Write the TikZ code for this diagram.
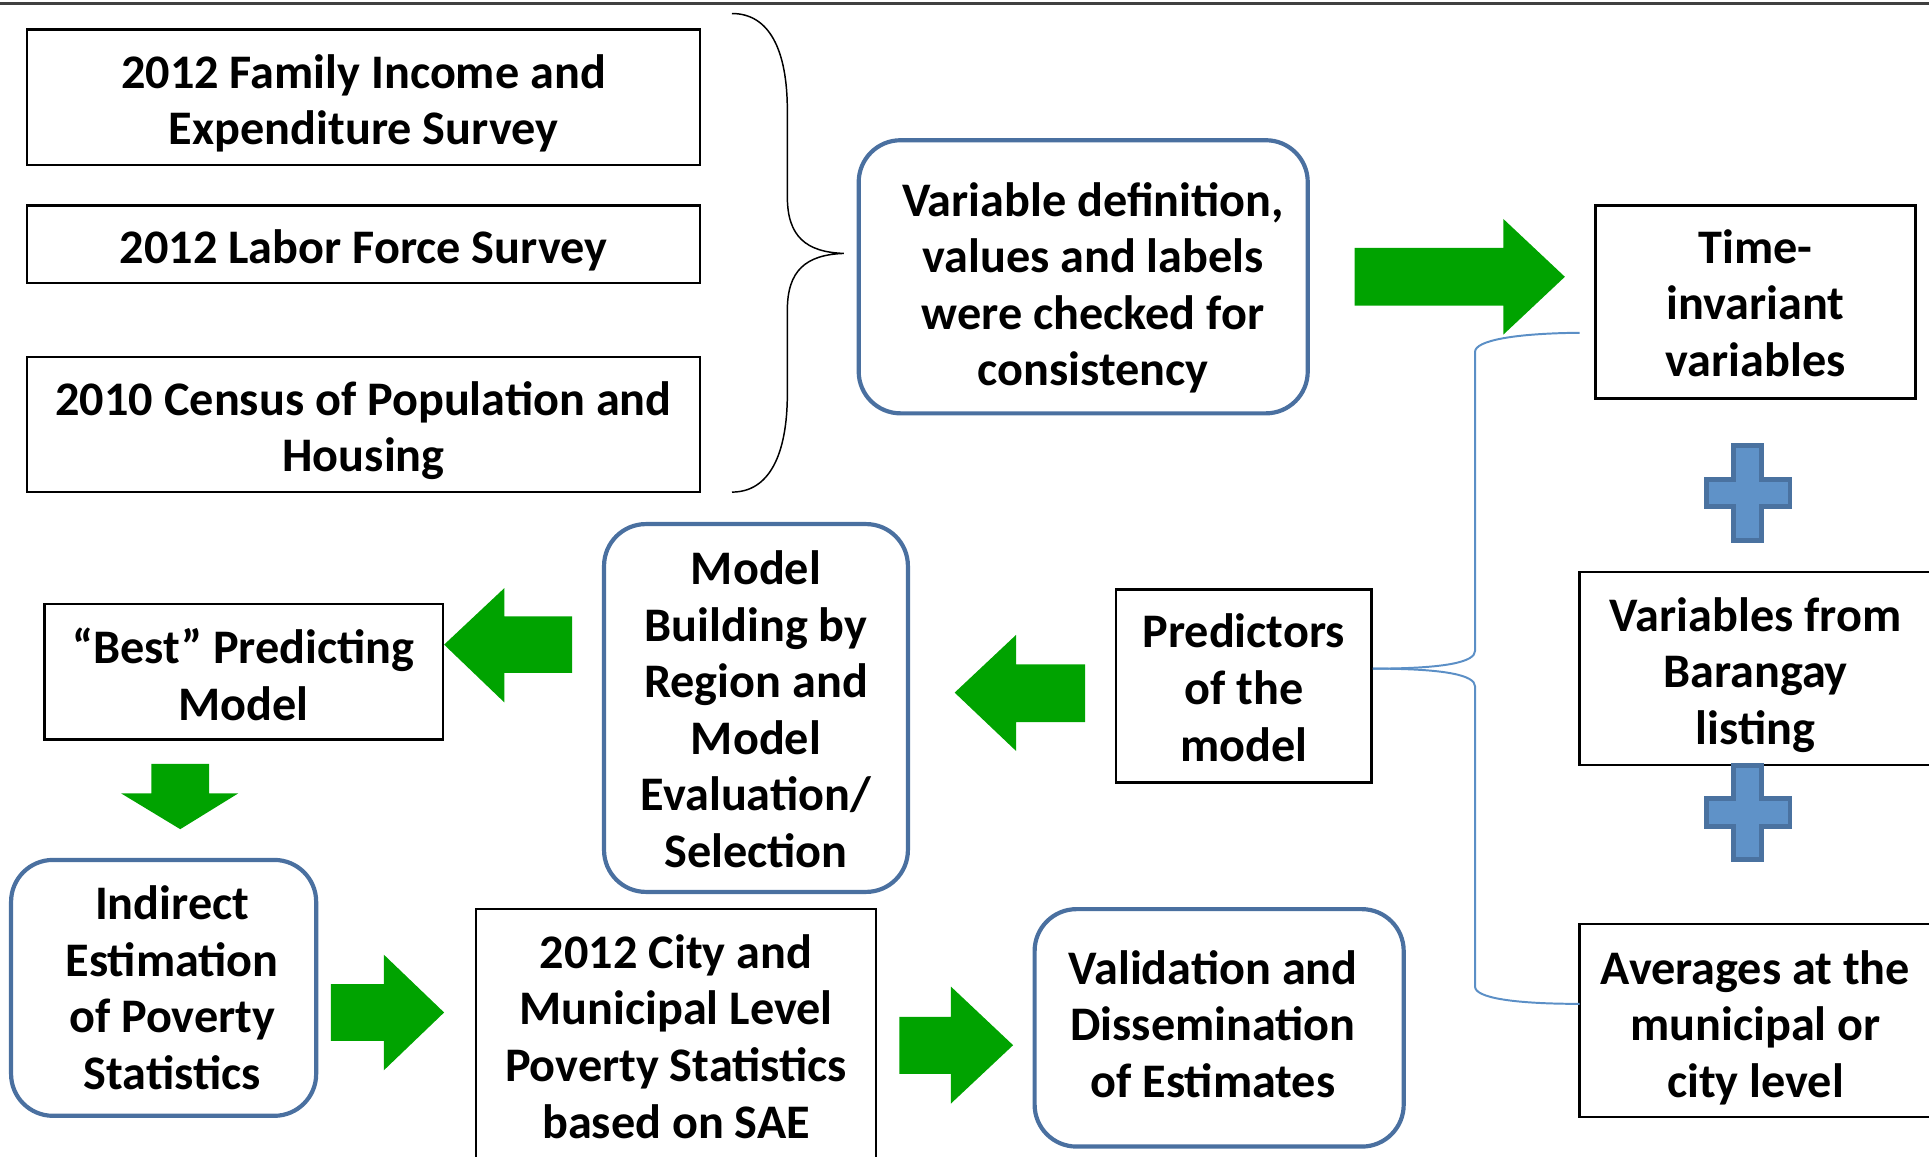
\documentclass[tikz,border=0pt]{standalone}
\usepackage{fontspec}
\setmainfont{Carlito}
\usetikzlibrary{calc}
\definecolor{agreen}{RGB}{0,163,0}
\definecolor{rblue}{RGB}{74,112,160}
\definecolor{pfill}{RGB}{95,146,200}
\definecolor{pbrd}{RGB}{74,114,160}
\definecolor{cblue}{RGB}{91,143,198}
\newcommand{\txtfont}{\fontsize{19.6pt}{23pt}\selectfont\bfseries}
\begin{document}
\begin{tikzpicture}[x=0.5pt,y=-0.5pt,
 sqbox/.style={draw=black, line width=1pt, fill=white, inner sep=0pt},
 rbox/.style={draw=rblue, line width=1.7pt, fill=white, rounded corners=17pt, inner sep=0pt},
 txt/.style={align=center, font=\txtfont, inner sep=0pt},
 garrow/.style={fill=agreen, draw=none},
 plusst/.style={fill=pfill, draw=pbrd, line width=2pt},
 conn/.style={draw=cblue, line width=0.8pt},
 bracest/.style={draw=black, line width=0.6pt}]
\useasboundingbox (0,0) rectangle (1568,940);
\draw[line width=1.1pt, black!75] (0,3) -- (1568,3);

% source boxes
\node[sqbox, minimum width=273.5pt, minimum height=55pt] (fies) at (295.5,79) {};
\node[txt] (fiesT) at ([shift={(0,5)}]fies.center) {2012 Family Income and\\Expenditure Survey};
\node[sqbox, minimum width=273.5pt, minimum height=31.5pt] (lfs) at (295.5,198.5) {};
\node[txt] (lfsT) at ([shift={(0,5)}]lfs.center) {2012 Labor Force Survey};
\node[sqbox, minimum width=273.5pt, minimum height=55pt] (census) at (295.5,345) {};
\node[txt] (censusT) at ([shift={(0,5)}]census.center) {2010 Census of Population and\\Housing};

% brace
\coordinate (bt) at (595,11);
\coordinate (bb) at (595,400);
\coordinate (btip) at (686,206);
\draw[bracest] (bt) .. controls (625,11) and (640,40) .. (640,90) -- (640,160) .. controls (640,192) and (655,205) .. (btip) .. controls (655,207) and (640,220) .. (640,252) -- (640,320) .. controls (640,370) and (625,400) .. (bb);

% main nodes
\node[rbox, minimum width=182.5pt, minimum height=111pt] (vardef) at (880.5,225) {};
\node[txt] (vardefT) at ([shift={(8,9)}]vardef.center) {Variable definition,\\values and labels\\were checked for\\consistency};
\node[sqbox, minimum width=130pt, minimum height=78.5pt] (timeinv) at (1427,245.5) {};
\node[txt] (timeinvT) at ([shift={(0,1)}]timeinv.center) {Time-\\invariant\\variables};
\node[sqbox, minimum width=143pt, minimum height=78.5pt] (barangay) at (1427,543.5) {};
\node[txt] (barangayT) at ([shift={(0,5)}]barangay.center) {Variables from\\Barangay\\listing};
\node[sqbox, minimum width=143pt, minimum height=78.5pt] (averages) at (1427,829.5) {};
\node[txt] (averagesT) at ([shift={(0,6)}]averages.center) {Averages at the\\municipal or\\city level};
\node[sqbox, minimum width=104pt, minimum height=78.5pt] (pred) at (1011,557.5) {};
\node[txt] (predT) at ([shift={(0,1.5)}]pred.center) {Predictors\\of the\\model};
\node[rbox, minimum width=123.5pt, minimum height=149.5pt] (modelb) at (614.5,575.5) {};
\node[txt] (modelbT) at ([shift={(0,1)}]modelb.center) {Model\\Building by\\Region and\\Model\\Evaluation/\\Selection};
\node[sqbox, minimum width=162pt, minimum height=55pt] (best) at (198,546) {};
\node[txt] (bestT) at ([shift={(0,2)}]best.center) {“Best” Predicting\\Model};
\node[rbox, minimum width=124pt, minimum height=104pt] (indirect) at (133,803) {};
\node[txt] (indirectT) at ([shift={(7,0)}]indirect.center) {Indirect\\Estimation\\of Poverty\\Statistics};
\node[sqbox, minimum width=162.5pt, minimum height=103.5pt] (city) at (549.5,842.5) {};
\node[txt] (cityT) at (city.center) {2012 City and\\Municipal Level\\Poverty Statistics\\based on SAE};
\node[rbox, minimum width=150pt, minimum height=96.5pt] (valid) at (991,835.5) {};
\node[txt] (validT) at ([shift={(-5,-3)}]valid.center) {Validation and\\Dissemination\\of Estimates};

% plus signs
\draw[plusst] (1409,362) -- (1432,362) -- (1432,389.5) -- (1455,389.5) -- (1455,412) -- (1432,412) -- (1432,439) -- (1409,439) -- (1409,412) -- (1387,412) -- (1387,389.5) -- (1409,389.5) -- cycle;
\draw[plusst] (1409,622) -- (1432,622) -- (1432,649) -- (1455,649) -- (1455,671.5) -- (1432,671.5) -- (1432,699) -- (1409,699) -- (1409,671.5) -- (1387,671.5) -- (1387,649) -- (1409,649) -- cycle;

% green block arrows
\fill[garrow] (1101,201.5) -- (1222,201.5) -- (1222,178) -- (1272,225) -- (1222,272) -- (1222,248.5) -- (1101,248.5) -- cycle;
\fill[garrow] (882,540) -- (826,540) -- (826,516) -- (776,563) -- (826,610.5) -- (826,587) -- (882,587) -- cycle;
\fill[garrow] (465,501) -- (410,501) -- (410,478) -- (361,524) -- (410,571) -- (410,547) -- (465,547) -- cycle;
\fill[garrow] (123,621) -- (170,621) -- (170,645) -- (193.5,645) -- (146.5,674) -- (98.6,645) -- (123,645) -- cycle;
\fill[garrow] (269,800) -- (312,800) -- (312,776) -- (361,823) -- (312,870) -- (312,846) -- (269,846) -- cycle;
\fill[garrow] (731,826.5) -- (773,826.5) -- (773,802) -- (823.5,849.6) -- (773,897) -- (773,873) -- (731,873) -- cycle;

% blue brace connector
\coordinate (tiend) at (1284,270.5);
\coordinate (avend) at (1284,816);
\coordinate (ptip) at ([yshift=7pt]pred.east);
\draw[conn] (ptip) .. controls +(30pt,0pt) and (1199,538) .. (1199,529) -- (1199,286) .. controls (1199,277) and (1230,271) .. (tiend);
\draw[conn] (ptip) .. controls +(30pt,0pt) and (1199,549) .. (1199,558) -- (1199,802) .. controls (1199,811) and (1230,816) .. (avend);
\end{tikzpicture}
\end{document}
